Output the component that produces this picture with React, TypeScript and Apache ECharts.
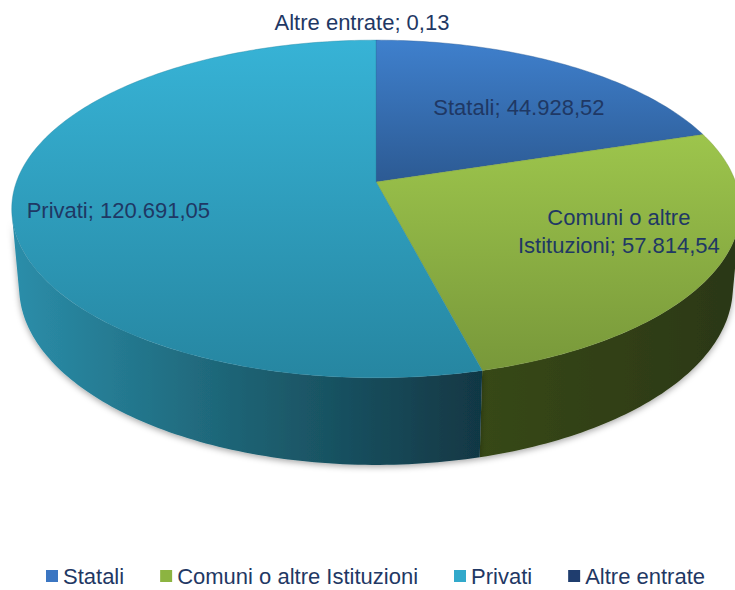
import React, { useEffect, useRef } from 'react';
import * as echarts from 'echarts';

// ---- data ----
const categories = ['Statali', 'Comuni o altre Istituzioni', 'Privati', 'Altre entrate'];
const values = [44928.52, 57814.54, 120691.05, 0.13];

// ---- styles ----
const legendColors = ['#3b76c2', '#8cb441', '#32a9cb', '#1f3d6e'];
const topColors = [
  ['#3f80cd', '#2c5a93'],
  ['#9dc54c', '#78983a'],
  ['#37b3d6', '#2686a1'],
  ['#24477e', '#1a345c'],
];
const wallColors = [
  ['#244a7a', '#1d3b62', '#1a3558'],
  ['#374819', '#314016', '#2b3713'],
  ['#2b8eaa', '#1d6172', '#113744'],
  ['#1a345c', '#14294a', '#10223e'],
];
const labelColor = '#1f3864';
const FONT = '"Liberation Sans", Arial, sans-serif';

// ---- 3D projection geometry ----
const CX = 376, CY = 182, F = 2003, D = 5.57, SIN = 0.4575, COS = 0.889, H = 0.247;

function project(X: number, Y: number, Z: number): number[] {
  const depth = D - Z * COS - Y * SIN;
  const up = Y * COS - Z * SIN;
  return [CX + (F * X) / depth, CY - (F * up) / depth];
}
function rim(theta: number, r: number, Y: number): number[] {
  return project(r * Math.sin(theta), Y, -r * Math.cos(theta));
}

function fmtIt(v: number): string {
  const [i, d] = v.toFixed(2).split('.');
  return i.replace(/\B(?=(\d{3})+(?!\d))/g, '.') + ',' + d;
}
function wrap(s: string, max: number): string {
  const words = s.split(' ');
  const lines: string[] = [];
  let cur = '';
  for (const w of words) {
    if (cur && (cur + ' ' + w).length > max) {
      lines.push(cur);
      cur = w;
    } else cur = cur ? cur + ' ' + w : w;
  }
  if (cur) lines.push(cur);
  return lines.join('\n');
}

const total = values.reduce((a, b) => a + b, 0);
function sliceAngles(idx: number, v: number): number[] {
  let before = 0;
  for (let i = 0; i < idx; i++) before += values[i];
  const a = (before / total) * Math.PI * 2;
  const b = ((before + v) / total) * Math.PI * 2;
  return [a, b];
}

const VIS = Math.acos(-1 / (D * COS)); // start of visible outer wall

export default function App() {
  const ref = useRef<HTMLDivElement>(null);
  useEffect(() => {
    document.body.style.margin = '0';
    const chart = echarts.init(ref.current!, undefined, { renderer: 'svg' });
    const seriesData = values.map((v, i) => ({ name: categories[i], value: [i, v] }));

    const option: any = {
      animation: false,
      backgroundColor: '#ffffff',
      legend: {
        top: 565,
        left: 46,
        padding: 0,
        icon: 'rect',
        itemWidth: 12,
        itemHeight: 12,
        itemGap: 36,
        textStyle: { fontFamily: FONT, fontSize: 22, lineHeight: 22, color: '#1f3864' },
        data: categories,
      },
      series: [
        {
          type: 'pie',
          name: 'legend',
          radius: [0, 0],
          silent: true,
          label: { show: false },
          labelLine: { show: false },
          data: values.map((v, i) => ({ name: categories[i], value: v, itemStyle: { color: legendColors[i] } })),
        },
        {
          type: 'custom',
          name: 'walls',
          coordinateSystem: 'none',
          silent: true,
          z: 1,
          data: seriesData,
          renderItem: (params: any, api: any) => {
            const idx = params.dataIndex;
            const v = api.value(1);
            const [a, b] = sliceAngles(idx, v);
            const s = Math.max(a, VIS);
            const e = Math.min(b, 2 * Math.PI - VIS);
            if (e <= s) return null;
            const n = Math.max(2, Math.ceil(((e - s) * 180) / Math.PI));
            const top: number[][] = [];
            const bot: number[][] = [];
            for (let k = 0; k <= n; k++) {
              const t = s + ((e - s) * k) / n;
              top.push(rim(t, 1, 0));
              bot.push(rim(t, 1, -H));
            }
            const pts = top.concat(bot.reverse());
            const wc = wallColors[idx];
            return {
              type: 'polygon',
              shape: { points: pts },
              style: {
                fill: new echarts.graphic.LinearGradient(0, 0, 1, 0, [
                  { offset: 0, color: wc[0] },
                  { offset: 0.5, color: wc[1] },
                  { offset: 1, color: wc[2] },
                ]),
                stroke: null,
                shadowBlur: 6,
                shadowOffsetY: 2,
                shadowColor: 'rgba(0,0,0,0.35)',
              },
            };
          },
        },
        {
          type: 'custom',
          name: 'tops',
          coordinateSystem: 'none',
          silent: true,
          z: 2,
          data: seriesData,
          renderItem: (params: any, api: any) => {
            const idx = params.dataIndex;
            const v = api.value(1);
            const [a, b] = sliceAngles(idx, v);
            const n = Math.max(2, Math.ceil(((b - a) * 180) / Math.PI));
            const pts: number[][] = [project(0, 0, 0)];
            for (let k = 0; k <= n; k++) pts.push(rim(a + ((b - a) * k) / n, 1, 0));
            const tc = topColors[idx];
            const frac = v / total;
            const mid = (a + b) / 2;
            const outside = frac < 0.01;
            const r = outside ? 1.15 : 0.72;
            const lp = rim(mid, r, 0);
            const text = wrap(categories[idx] + '; ' + fmtIt(v), 24);
            const lines = text.split('\n').length;
            const dy = outside ? 0 : lines > 1 ? -11 : 13;
            const dx = outside ? -14 : 3;
            return {
              type: 'group',
              children: [
                {
                  type: 'polygon',
                  shape: { points: pts },
                  style: {
                    fill: new echarts.graphic.LinearGradient(0, 0, 0, 1, [
                      { offset: 0, color: tc[0] },
                      { offset: 1, color: tc[1] },
                    ]),
                    stroke: frac > 0.01 ? tc[1] : null,
                    lineWidth: 0.4,
                  },
                },
                {
                  type: 'text',
                  z2: 10,
                  style: {
                    text,
                    x: lp[0] + dx,
                    y: lp[1] + dy,
                    fill: labelColor,
                    font: '22px ' + FONT,
                    textAlign: 'center',
                    textVerticalAlign: 'middle',
                    lineHeight: 28,
                  },
                },
              ],
            };
          },
        },
      ],
    };
    chart.setOption(option);
    return () => chart.dispose();
  }, []);
  return (
    <div
      ref={ref}
      style={{ position: 'fixed', left: 0, top: 0, width: 735, height: 590, background: '#fff' }}
    />
  );
}
